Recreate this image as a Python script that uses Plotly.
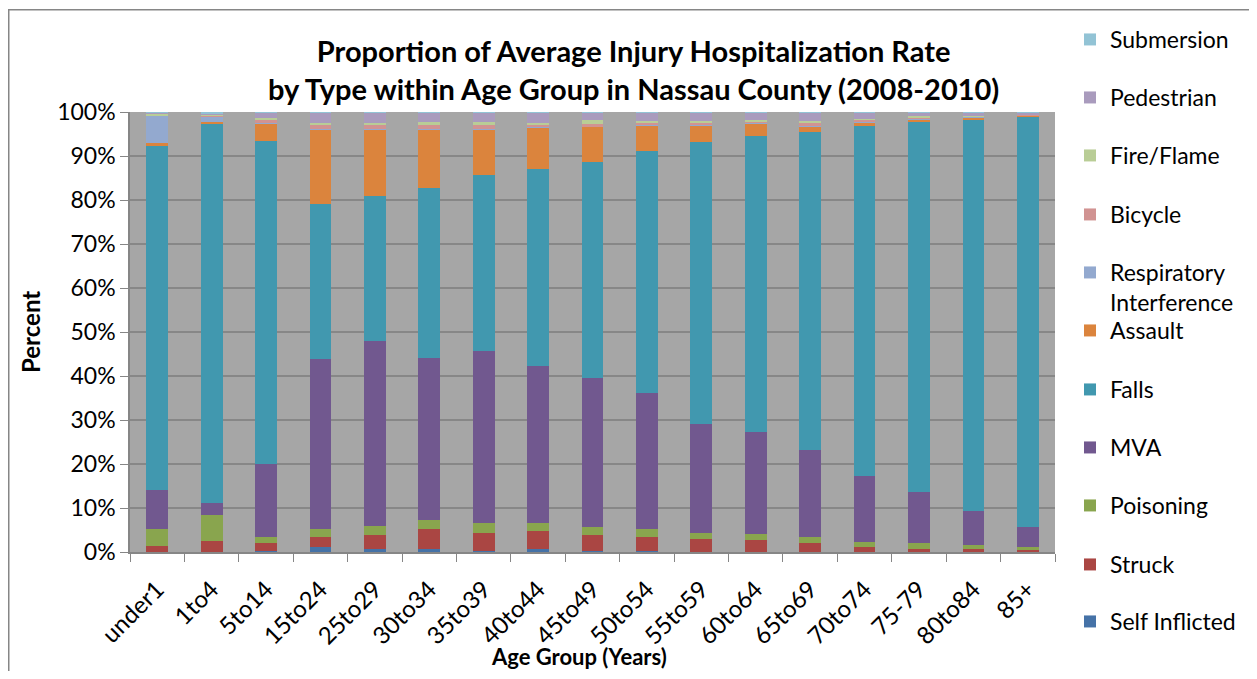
import plotly.graph_objects as go

age_groups = ["under1", "1to4", "5to14", "15to24", "25to29", "30to34", "35to39", "40to44",
              "45to49", "50to54", "55to59", "60to64", "65to69", "70to74", "75-79", "80to84", "85+"]

self_inflicted = [0.1, 0.0, 0.3, 1.2, 0.6, 0.6, 0.2, 0.6, 0.2, 0.2, 0.1, 0.1, 0.1, 0.1, 0.1, 0.05, 0.05]
struck = [1.3, 2.6, 1.8, 2.2, 3.3, 4.6, 4.1, 4.1, 3.7, 3.1, 2.8, 2.6, 1.9, 1.0, 0.6, 0.7, 0.4]
poisoning = [3.8, 5.7, 1.2, 1.8, 1.9, 2.1, 2.2, 1.9, 1.8, 2.0, 1.4, 1.5, 1.4, 1.2, 1.3, 0.75, 0.65]
mva = [8.9, 2.9, 16.7, 38.7, 42.2, 36.9, 39.1, 35.7, 33.9, 30.9, 24.9, 23.0, 19.8, 15.0, 11.7, 7.9, 4.5]
falls = [78.2, 86.1, 73.3, 35.3, 32.8, 38.5, 40.1, 44.7, 49.1, 54.9, 63.9, 67.4, 72.3, 79.6, 84.1, 89.0, 93.3]
assault = [0.6, 0.4, 4.0, 16.9, 15.3, 13.4, 10.4, 9.4, 7.9, 5.8, 3.9, 2.7, 1.3, 0.8, 0.5, 0.4, 0.3]
respiratory = [6.3, 1.3, 0.1, 0.1, 0.1, 0.1, 0.1, 0.1, 0.1, 0.1, 0.1, 0.1, 0.1, 0.1, 0.3, 0.1, 0.1]
bicycle = [0.1, 0.1, 1.0, 0.8, 0.8, 0.8, 0.8, 0.5, 0.6, 0.6, 0.5, 0.5, 0.6, 0.4, 0.2, 0.1, 0.05]
fire_flame = [0.3, 0.3, 0.2, 0.5, 0.6, 0.7, 0.7, 0.6, 0.8, 0.4, 0.4, 0.3, 0.4, 0.3, 0.2, 0.1, 0.05]
pedestrian = [0.2, 0.2, 1.3, 2.3, 2.3, 2.1, 2.2, 2.3, 1.8, 1.9, 1.9, 1.7, 2.0, 1.4, 0.9, 0.8, 0.5]
submersion = [0.2, 0.4, 0.1, 0.2, 0.1, 0.2, 0.1, 0.1, 0.1, 0.1, 0.1, 0.1, 0.1, 0.1, 0.1, 0.1, 0.1]

series_names = ["Self Inflicted", "Struck", "Poisoning", "MVA", "Falls", "Assault",
                "Respiratory<br>Interference", "Bicycle", "Fire/Flame", "Pedestrian", "Submersion"]
series_values = [self_inflicted, struck, poisoning, mva, falls, assault,
                 respiratory, bicycle, fire_flame, pedestrian, submersion]
colors = ["#4572A7", "#AA4643", "#89A54E", "#71588F", "#4198AF", "#DB843D",
          "#93A9CF", "#D19392", "#B9CD96", "#A99BBD", "#92C3D5"]

OFF = 8  # page body margin
W, H = 1257 - 2 * OFF, 679 - 2 * OFF
# plot area in screen coordinates
SL, SR, ST, SB = 130, 1055, 112, 552
L, R, T, B = SL - OFF, SR - OFF, ST - OFF, SB - OFF
FONT = "Lato"
LEG_SIZE = 23

fig = go.Figure()
# legend item vertical centers (screen px) from bottom item (Self Inflicted) upwards
legend_y = [622, 565, 506, 448, 390, 331, 273, 215, 156, 98, 40]

layout_legends = {}
for i, (name, vals, col) in enumerate(zip(series_names, series_values, colors)):
    lkey = "legend" if i == 0 else f"legend{i+1}"
    fig.add_trace(go.Bar(
        x=age_groups, y=vals, name=name, marker=dict(color=col, line=dict(width=0)),
        legend=lkey,
    ))
    top_px = legend_y[i] - OFF - 22
    layout_legends[lkey] = dict(
        x=(1070 - OFF) / W, y=1 - top_px / H, xref="container", yref="container",
        xanchor="left", yanchor="top", valign="top",
        bgcolor="rgba(0,0,0,0)", font=dict(family=FONT, size=LEG_SIZE, color="#000"),
        itemclick=False, itemdoubleclick=False,
    )

fig.update_layout(
    width=W, height=H,
    margin=dict(l=L, r=W - R, t=T, b=H - B, autoexpand=False),
    barmode="stack", bargap=0.6,
    paper_bgcolor="white", plot_bgcolor="#A6A6A6",
    font=dict(family=FONT, color="#000"),
    showlegend=True,
    **layout_legends,
)

fig.update_yaxes(
    range=[0, 100], dtick=10, ticksuffix="%", showgrid=True, gridcolor="#878787", gridwidth=1.5,
    showline=True, linecolor="#868686", linewidth=1.5, ticks="outside", ticklen=8,
    tickcolor="#868686", tickfont=dict(family=FONT, size=23, color="#000"), zeroline=False,
    automargin=False,
)
fig.update_xaxes(
    tickangle=-45, showline=True, linecolor="#868686", linewidth=1.5, ticks="outside",
    tickson="boundaries", ticklen=8, tickcolor="#868686", ticklabelstandoff=12,
    tickfont=dict(family=FONT, size=24, color="#000"), automargin=False,
)

pw, ph = R - L, B - T
def px2paper(sx, sy):
    """screen px -> paper coords"""
    fx, fy = sx - OFF, sy - OFF
    return (fx - L) / pw, (B - fy) / ph

# title
tx, ty = px2paper(633, 69)
fig.add_annotation(
    text="<b>Proportion of Average Injury Hospitalization Rate<br>by Type within Age Group in Nassau County (2008-2010)</b>",
    x=tx, y=ty, xref="paper", yref="paper", showarrow=False, xanchor="center", yanchor="middle",
    font=dict(family=FONT, size=29, color="#000"),
)
ax, ay = px2paper(30, 332)
fig.add_annotation(text="<b>Percent</b>", x=ax, y=ay, xref="paper", yref="paper", showarrow=False,
                   xanchor="center", yanchor="middle",
                   textangle=-90, font=dict(family=FONT, size=24, color="#000"))
bx, by = px2paper(579, 656)
fig.add_annotation(text="<b>Age Group (Years)</b>", x=bx, y=by, xref="paper", yref="paper",
                   xanchor="center", yanchor="middle",
                   showarrow=False, font=dict(family=FONT, size=22, color="#000"))

# chart area border
x0, y0 = px2paper(8.75, 720)
x1, y1 = px2paper(1320, 9.75)
fig.add_shape(type="rect", xref="paper", yref="paper", x0=x0, y0=y0, x1=x1, y1=y1,
              line=dict(color="#868686", width=1.5), fillcolor="rgba(0,0,0,0)", layer="below")

fig.write_html("out.html")
